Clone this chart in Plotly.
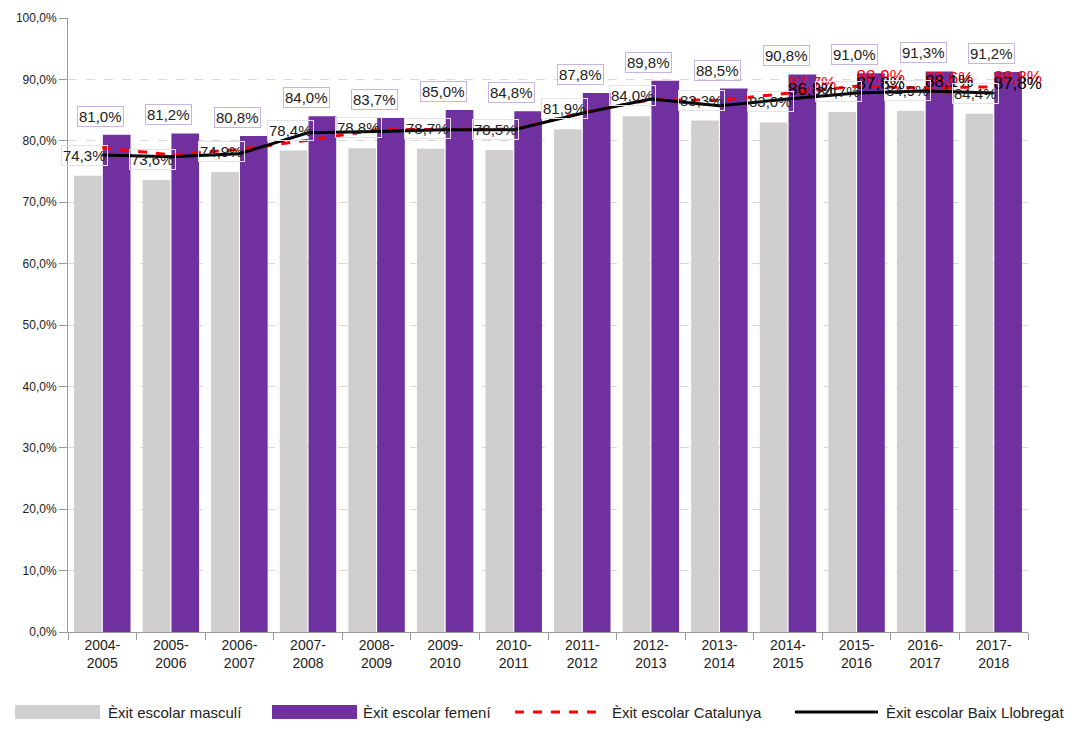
import plotly.graph_objects as go

categories = ["2004-2005", "2005-2006", "2006-2007", "2007-2008", "2008-2009", "2009-2010",
              "2010-2011", "2011-2012", "2012-2013", "2013-2014", "2014-2015", "2015-2016",
              "2016-2017", "2017-2018"]
masculi = [74.3, 73.6, 74.9, 78.4, 78.8, 78.7, 78.5, 81.9, 84.0, 83.3, 83.0, 84.7, 84.9, 84.4]
femeni = [81.0, 81.2, 80.8, 84.0, 83.7, 85.0, 84.8, 87.8, 89.8, 88.5, 90.8, 91.0, 91.3, 91.2]
catalunya = [78.9, 77.7, 78.6, 80.1, 81.8, 81.9, 81.9, 84.6, 86.7, 86.6, 87.7, 88.9, 88.6, 88.8]
baix = [77.7, 77.4, 77.9, 81.3, 81.5, 81.8, 81.8, 84.5, 86.8, 85.7, 86.8, 87.8, 88.1, 87.8]
labelled_from = 10  # line values labelled from 2014-2015 onward
y_ticks = [0, 10, 20, 30, 40, 50, 60, 70, 80, 90, 100]
series_names = ["Èxit escolar masculí", "Èxit escolar femení",
                "Èxit escolar Catalunya", "Èxit escolar Baix Llobregat"]

FONT = "Liberation Sans, Arial, sans-serif"
OFF = 8  # page body margin
W, H = 1081 - 2 * OFF, 729 - 2 * OFF
ML, MR, MT, MB = 68 - OFF, 1081 - 1028 - OFF, 18 - OFF, 729 - 632 - OFF
PW, PH = W - ML - MR, H - MT - MB

def fmt(v):
    return f"{v:.1f}".replace(".", ",") + "%"

def px(x):  # page pixel x -> paper
    return (x - OFF - ML) / PW

def py(y):  # page pixel y -> paper
    return (H - MB - (y - OFF)) / PH

xlabels = [c.replace("-", "-<br>") for c in categories]

fig = go.Figure()
fig.add_trace(go.Bar(x=xlabels, y=masculi, name=series_names[0],
                     marker=dict(color="#D0CECE", line=dict(width=0))))
fig.add_trace(go.Bar(x=xlabels, y=femeni, name=series_names[1],
                     marker=dict(color="#7030A0", line=dict(width=0))))
fig.add_trace(go.Scatter(x=xlabels, y=catalunya, name=series_names[2],
                         mode="lines+text", cliponaxis=False,
                         line=dict(color="#FF0000", width=3, dash="dash"),
                         text=[fmt(v) if i >= labelled_from else "" for i, v in enumerate(catalunya)],
                         textposition="top right",
                         textfont=dict(color="#FF0000", size=17, family=FONT)))
fig.add_trace(go.Scatter(x=xlabels, y=baix, name=series_names[3],
                         mode="lines+text", cliponaxis=False,
                         line=dict(color="#000000", width=3),
                         text=[fmt(v) if i >= labelled_from else "" for i, v in enumerate(baix)],
                         textposition="top right",
                         textfont=dict(color="#000000", size=17, family=FONT)))

annotations = []
for xl, m, f in zip(xlabels, masculi, femeni):
    annotations.append(dict(x=xl, y=m, xref="x", yref="y", text=fmt(m), showarrow=False,
                            xshift=-18, yshift=10, yanchor="bottom",
                            font=dict(size=15, color="#222222", family=FONT),
                            bordercolor="#E4E0EC", borderwidth=1, borderpad=1,
                            bgcolor="rgba(255,255,255,0)"))
    annotations.append(dict(x=xl, y=f, xref="x", yref="y", text=fmt(f), showarrow=False,
                            xshift=-2, yshift=8, yanchor="bottom",
                            font=dict(size=15, color="#222222", family=FONT),
                            bordercolor="#C8B4E4", borderwidth=1, borderpad=1,
                            bgcolor="rgba(255,255,255,0)"))

# manual legend (wide symbols as in the reference), page pixel positions
shapes = []
leg_y = 712
legend_items = [
    (15, 100, 106, "rect", "#D0CECE"),
    (272, 357, 361, "rect", "#7030A0"),
    (515, 600, 610, "dash", "#FF0000"),
    (795, 878, 884, "line", "#000000"),
]
for (x0, x1, tx, kind, col), name in zip(legend_items, series_names):
    if kind == "rect":
        shapes.append(dict(type="rect", xref="paper", yref="paper",
                           x0=px(x0), x1=px(x1), y0=py(leg_y + 7), y1=py(leg_y - 7),
                           fillcolor=col, line=dict(width=0), layer="above"))
    else:
        shapes.append(dict(type="line", xref="paper", yref="paper",
                           x0=px(x0), x1=px(x1), y0=py(leg_y), y1=py(leg_y),
                           line=dict(color=col, width=3, dash="dash" if kind == "dash" else "solid")))
    annotations.append(dict(x=px(tx), y=py(leg_y), xref="paper", yref="paper", text=name,
                            showarrow=False, xanchor="left", yanchor="middle",
                            font=dict(size=15, color="#222222", family=FONT)))

fig.update_layout(
    width=W, height=H,
    margin=dict(l=ML, r=MR, t=MT, b=MB),
    paper_bgcolor="white", plot_bgcolor="white",
    separators=",.",
    barmode="group", bargap=0.16, bargroupgap=0.04,
    font=dict(family=FONT, size=14, color="#222222"),
    showlegend=False,
    annotations=annotations,
    shapes=shapes,
)
fig.update_xaxes(type="category", range=[-0.5, len(categories) - 0.5], automargin=False,
                 showline=True, linecolor="#9A9A9A", linewidth=1,
                 ticks="outside", tickson="boundaries", ticklen=7, tickcolor="#9A9A9A",
                 showgrid=False, tickfont=dict(size=14, family=FONT, color="#222222"))
fig.update_yaxes(range=[0, 100], tickvals=y_ticks, ticktext=[fmt(v) for v in y_ticks],
                 automargin=False,
                 showline=True, linecolor="#9A9A9A", linewidth=1,
                 ticks="outside", ticklen=8, tickcolor="#9A9A9A",
                 showgrid=True, gridcolor="#D9D9D9", griddash="dash", gridwidth=1,
                 zeroline=False, tickfont=dict(size=12, family=FONT, color="#222222"))

fig.write_html("out.html")
